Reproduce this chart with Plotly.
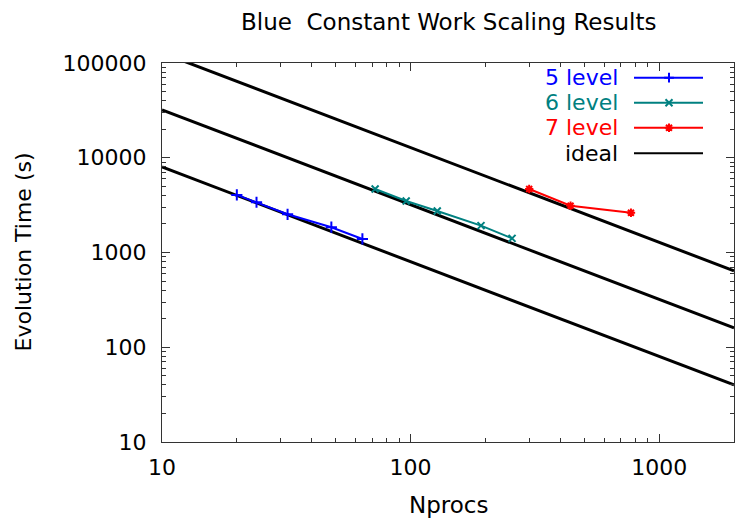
import math
import plotly.graph_objects as go

# ---- data ----
nprocs_5 = [20, 24, 32, 48, 64]
time_5 = [4050, 3390, 2530, 1850, 1390]
nprocs_6 = [72, 96, 128, 192, 256]
time_6 = [4680, 3500, 2740, 1920, 1410]
nprocs_7 = [300, 440, 770]
time_7 = [4680, 3120, 2630]
ideal_x = [10, 2000]
ideal_5 = [8000, 40]
ideal_6 = [32000, 160]
ideal_7 = [128000, 640]

y_tickvals = [10, 100, 1000, 10000, 100000]
y_ticktext = ["10", "100", "1000", "10000", "100000"]
x_tickvals = [10, 100, 1000]
x_ticktext = ["10", "100", "1000"]

legend_names = ["5 level", "6 level", "7 level", "ideal"]

BLUE = "#0000ff"
TEAL = "#008080"
RED = "#ff0000"
BLACK = "#000000"
FONT = "DejaVu Sans"

XMIN, XMAX = 10, 2000
YMIN, YMAX = 10, 100000

# page offset (browser body margin) of 8px
OFF = 8
L, R, T, B = 162, 734, 63, 442   # plot box in screen pixels
W, H = R - L, B - T

def px(x):
    return (x - L) / W
def py(y):
    return (B - y) / H
def dx(x):
    lx0, lx1 = math.log10(XMIN), math.log10(XMAX)
    return 10 ** (lx0 + px(x) * (lx1 - lx0))
def dy(y):
    ly0, ly1 = math.log10(YMIN), math.log10(YMAX)
    return 10 ** (ly0 + py(y) * (ly1 - ly0))

fig = go.Figure()

for iy in (ideal_5, ideal_6, ideal_7):
    fig.add_trace(go.Scatter(x=ideal_x, y=iy, mode="lines",
                             line=dict(color=BLACK, width=3), showlegend=False))

series = [
    (nprocs_5, time_5, BLUE, "cross-thin-open", 8),
    (nprocs_6, time_6, TEAL, "x-thin-open", 7),
    (nprocs_7, time_7, RED, "asterisk-open", 7),
]
for xs, ys, col, sym, sz in series:
    fig.add_trace(go.Scatter(x=xs, y=ys, mode="lines+markers",
                             line=dict(color=col, width=2),
                             marker=dict(symbol=sym, size=sz,
                                         line=dict(color=col, width=2), color=col),
                             showlegend=False))

# ---- manual legend (gnuplot style: text right, sample on the right) ----
leg_rows = [77.7, 102.7, 127.7, 153.3]
leg_cols = [BLUE, TEAL, RED, BLACK]
leg_syms = ["cross-thin-open", "x-thin-open", "asterisk-open", None]
for name, row, col, sym in zip(legend_names, leg_rows, leg_cols, leg_syms):
    fig.add_trace(go.Scatter(x=[dx(634), dx(703)], y=[dy(row), dy(row)],
                             mode="lines", line=dict(color=col, width=2),
                             showlegend=False))
    if sym:
        fig.add_trace(go.Scatter(x=[dx(669)], y=[dy(row)], mode="markers",
                                 marker=dict(symbol=sym, size=7, color=col,
                                             line=dict(color=col, width=2)),
                                 showlegend=False))
    fig.add_annotation(x=px(620), y=py(row), xref="paper", yref="paper",
                       text=name, showarrow=False, xanchor="right", yanchor="middle",
                       font=dict(family=FONT, size=22, color=col))

fig.add_annotation(text="Blue  Constant Work Scaling Results", x=px(448.5), y=py(22),
                   xref="paper", yref="paper", showarrow=False, xanchor="center",
                   yanchor="middle", font=dict(family=FONT, size=23, color=BLACK))
fig.add_annotation(text="Nprocs", x=px(448), y=py(505),
                   xref="paper", yref="paper", showarrow=False, xanchor="center",
                   yanchor="middle", font=dict(family=FONT, size=23, color=BLACK))
fig.add_annotation(text="Evolution Time (s)", x=px(23), y=py(252.5), textangle=-90,
                   xref="paper", yref="paper", showarrow=False, xanchor="center",
                   yanchor="middle", font=dict(family=FONT, size=22, color=BLACK))

minor_x = [v * m for v in (10, 100, 1000) for m in range(2, 10) if v * m <= 2000]
minor_y = [v * m for v in (10, 100, 1000, 10000) for m in range(2, 10)]

axis_common = dict(type="log", ticks="inside", ticklen=8, tickwidth=1, tickcolor="#333",
                   showline=True, linecolor="#333", linewidth=1, mirror="ticks",
                   showgrid=False, zeroline=False, tickmode="array",
                   tickfont=dict(family=FONT, size=22, color=BLACK))

fig.update_layout(
    width=750 - OFF, height=526 - OFF,
    margin=dict(l=L - OFF, r=750 - R, t=T - OFF, b=526 - B, pad=0),
    paper_bgcolor="white", plot_bgcolor="white",
    showlegend=False,
    font=dict(family=FONT, size=22, color=BLACK),
    xaxis=dict(range=[math.log10(XMIN), math.log10(XMAX)],
               tickvals=x_tickvals, ticktext=x_ticktext, ticklabelstandoff=6,
               minor=dict(tickmode="array", tickvals=minor_x, ticks="inside",
                          ticklen=4, tickcolor="#333", showgrid=False),
               **axis_common),
    yaxis=dict(range=[math.log10(YMIN), math.log10(YMAX)],
               tickvals=y_tickvals, ticktext=y_ticktext, ticklabelstandoff=10,
               minor=dict(tickmode="array", tickvals=minor_y, ticks="inside",
                          ticklen=4, tickcolor="#333", showgrid=False),
               **axis_common),
)

fig.write_html("out.html")
